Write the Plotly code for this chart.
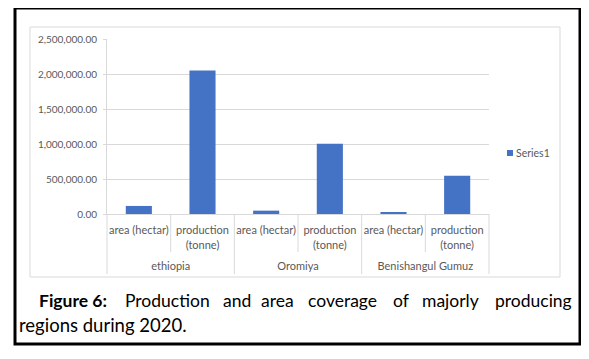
import plotly.graph_objects as go

regions = ["ethiopia", "ethiopia", "Oromiya", "Oromiya", "Benishangul Gumuz", "Benishangul Gumuz"]
measures = ["area (hectar)", "production<br>(tonne)", "area (hectar)", "production<br>(tonne)",
            "area (hectar)", "production<br>(tonne)"]
values = [115000, 2050000, 48000, 1005000, 28000, 548000]
series_name = "Series1"
tick_vals = [0, 500000, 1000000, 1500000, 2000000, 2500000]
caption_words = ["<b>Figure 6:</b>", "Production", "and", "area", "coverage", "of", "majorly", "producing"]
caption_line2 = "regions during 2020."

# The page body has an 8px margin; coordinates below are in reference-image pixels.
OFF = 8
W, H = 589 - OFF, 359 - OFF
PL, PT, PW, PH = 107, 39, 382, 175          # plot area in reference pixels
L, T = PL - OFF, PT - OFF
R, B = W - L - PW, H - T - PH


def px(x):
    return (x - PL) / PW


def py(y):
    return (PT + PH - y) / PH


FONT = "Lato"
GRAY = "#595959"
LINE = "#d9d9d9"
BAR = "#4472C4"

keys = [f"{r} | {m}" for r, m in zip(regions, measures)]
groups = list(dict.fromkeys(regions))

fig = go.Figure()
fig.add_trace(go.Bar(
    x=keys, y=values, name=series_name,
    marker=dict(color=BAR, line=dict(width=0)),
    showlegend=False,
))
# invisible helper trace so the group-label axis is drawn
fig.add_trace(go.Scatter(
    x=list(range(len(groups))), y=[0] * len(groups), xaxis="x2", yaxis="y",
    mode="markers", marker=dict(opacity=0), hoverinfo="skip", showlegend=False,
))

shapes = [
    dict(type="rect", xref="paper", yref="paper", x0=px(15), x1=px(580), y0=py(8), y1=py(344),
         line=dict(color="black", width=3), layer="below"),
    dict(type="rect", xref="paper", yref="paper", x0=px(30), x1=px(560), y0=py(27), y1=py(277),
         line=dict(color=LINE, width=1), layer="below"),
    # legend swatch
    dict(type="rect", xref="paper", yref="paper", x0=px(507), x1=px(513), y0=py(150), y1=py(156),
         line=dict(width=0), fillcolor=BAR),
]
n = len(measures)
for i in range(1, n, 2):
    shapes.append(dict(type="line", xref="paper", yref="paper", x0=i / n, x1=i / n,
                       y0=0, y1=py(252), line=dict(color=LINE, width=1)))
for i in range(0, n + 1, 2):
    shapes.append(dict(type="line", xref="paper", yref="paper", x0=i / n, x1=i / n,
                       y0=0, y1=py(274), line=dict(color=LINE, width=1)))

word_left = [37, 123, 221, 259, 306, 391, 420, 493]
annotations = []
for wtxt, wx in zip(caption_words, word_left):
    annotations.append(dict(xref="paper", yref="paper", x=px(wx), y=py(300), xanchor="left",
                            yanchor="middle", text=wtxt, showarrow=False,
                            font=dict(family=FONT, size=17.5, color="black")))
annotations.append(dict(xref="paper", yref="paper", x=px(17), y=py(325), xanchor="left",
                        yanchor="middle", text=caption_line2, showarrow=False,
                        font=dict(family=FONT, size=18.5, color="black")))
annotations.append(dict(xref="paper", yref="paper", x=px(514), y=py(153), xanchor="left",
                        yanchor="middle", text=series_name, showarrow=False,
                        font=dict(family=FONT, size=10.5, color=GRAY)))

fig.update_layout(
    width=W, height=H,
    margin=dict(l=L, r=R, t=T, b=B, pad=0),
    paper_bgcolor="white", plot_bgcolor="white",
    font=dict(family=FONT, size=10, color=GRAY),
    bargap=0.59,
    shapes=shapes,
    showlegend=False,
    xaxis=dict(type="category", tickvals=keys, ticktext=measures, showline=True, linecolor=LINE,
               linewidth=1, ticks="", tickfont=dict(family=FONT, size=11, color=GRAY),
               ticklabelstandoff=6, showgrid=False, fixedrange=True),
    xaxis2=dict(overlaying="x", anchor="y", side="bottom", type="linear",
                range=[-0.5, len(groups) - 0.5], tickvals=list(range(len(groups))), ticktext=groups,
                showline=False, showgrid=False, zeroline=False, ticks="",
                tickfont=dict(family=FONT, size=11, color=GRAY), ticklabelstandoff=44,
                fixedrange=True),
    yaxis=dict(range=[0, 2500000], tickvals=tick_vals, tickformat=",.2f",
               showgrid=True, gridcolor=LINE, gridwidth=1,
               showline=True, linecolor=LINE, ticks="outside", ticklen=3, tickcolor=LINE,
               ticklabelstandoff=4,
               tickfont=dict(family=FONT, size=10, color=GRAY), zeroline=False, fixedrange=True),
    annotations=annotations,
)

fig.write_html("out.html")
